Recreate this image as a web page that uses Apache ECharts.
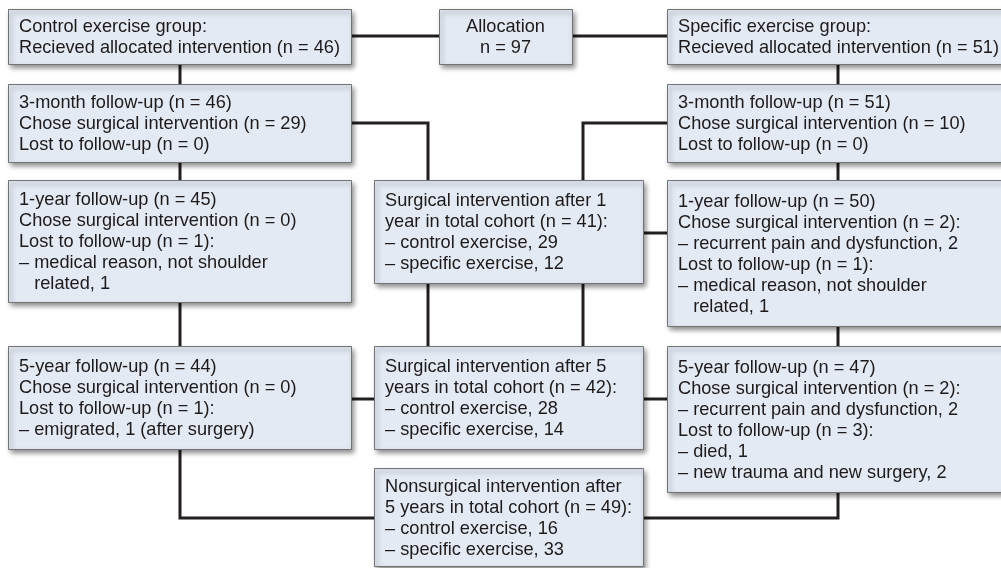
<!DOCTYPE html>
<html style="height: 100%">
<head>
  <meta charset="utf-8">
  <script src="https://cdn.jsdelivr.net/npm/echarts@6/dist/echarts.min.js"></script>
</head>
<body style="height: 100%; margin: 0; background: #fff">
<div id="container" style="width: 1001px; height: 568px"></div>
<script type="text/javascript">
// box texts, one array per column of the flow chart
const controlTexts = [
  ['Control exercise group:', 'Recieved allocated intervention (n = 46)'],
  ['3-month follow-up (n = 46)', 'Chose surgical intervention (n = 29)', 'Lost to follow-up (n = 0)'],
  ['1-year follow-up (n = 45)', 'Chose surgical intervention (n = 0)', 'Lost to follow-up (n = 1):',
   '\u2013 medical reason, not shoulder', '\u2007 related, 1'],
  ['5-year follow-up (n = 44)', 'Chose surgical intervention (n = 0)', 'Lost to follow-up (n = 1):',
   '\u2013 emigrated, 1 (after surgery)']
];
const cohortTexts = [
  ['Allocation', 'n = 97'],
  ['Surgical intervention after 1', 'year in total cohort (n = 41):', '\u2013 control exercise, 29', '\u2013 specific exercise, 12'],
  ['Surgical intervention after 5', 'years in total cohort (n = 42):', '\u2013 control exercise, 28', '\u2013 specific exercise, 14'],
  ['Nonsurgical intervention after', '5 years in total cohort (n = 49):', '\u2013 control exercise, 16', '\u2013 specific exercise, 33']
];
const specificTexts = [
  ['Specific exercise group:', 'Recieved allocated intervention (n = 51)'],
  ['3-month follow-up (n = 51)', 'Chose surgical intervention (n = 10)', 'Lost to follow-up (n = 0)'],
  ['1-year follow-up (n = 50)', 'Chose surgical intervention (n = 2):', '\u2013 recurrent pain and dysfunction, 2',
   'Lost to follow-up (n = 1):', '\u2013 medical reason, not shoulder', '\u2007 related, 1'],
  ['5-year follow-up (n = 47)', 'Chose surgical intervention (n = 2):', '\u2013 recurrent pain and dysfunction, 2',
   'Lost to follow-up (n = 3):', '\u2013 died, 1', '\u2013 new trauma and new surgery, 2']
];

// layout (page units): [left, top, right, bottom]
const controlFrames = [[8, 9, 351, 64], [8, 84, 351, 162], [8, 180, 351, 302], [8, 346, 351, 449]];
const cohortFrames = [[439, 9, 572, 64], [374, 180, 643, 283], [374, 346, 643, 449], [374, 468, 643, 566]];
const specificFrames = [[667, 9, 1004, 64], [667, 84, 1004, 162], [667, 180, 1004, 326], [667, 346, 1004, 492]];

// connector paths
const links = [
  [[351, 36], [439, 36]],
  [[572, 36], [667, 36]],
  [[180, 64], [180, 84]],
  [[838, 64], [838, 84]],
  [[351, 123], [428, 123], [428, 180]],
  [[667, 123], [583, 123], [583, 180]],
  [[180, 162], [180, 180]],
  [[838, 162], [838, 180]],
  [[643, 233], [667, 233]],
  [[180, 302], [180, 346]],
  [[428, 283], [428, 346]],
  [[583, 283], [583, 346]],
  [[838, 326], [838, 346]],
  [[351, 399], [374, 399]],
  [[643, 399], [667, 399]],
  [[180, 449], [180, 518], [374, 518]],
  [[838, 492], [838, 518], [643, 518]]
];

const boxes = [];
function addColumn(texts, frames) {
  for (let i = 0; i < texts.length; i++) {
    boxes.push({ value: frames[i], lines: texts[i], center: texts[i] === cohortTexts[0] });
  }
}
addColumn(controlTexts, controlFrames);
addColumn(cohortTexts, cohortFrames);
addColumn(specificTexts, specificFrames);

const myChart = echarts.init(document.getElementById('container'));

function renderBox(params, api) {
  const box = boxes[params.dataIndex];
  const p0 = api.coord([api.value(0), api.value(1)]);
  const p1 = api.coord([api.value(2), api.value(3)]);
  const w = p1[0] - p0[0], h = p1[1] - p0[1];
  return {
    type: 'group',
    children: [
      {
        type: 'rect',
        shape: { x: p0[0] + 0.5, y: p0[1] + 0.5, width: w, height: h },
        style: {
          fill: '#e4eaf4', stroke: '#737373', lineWidth: 1,
          shadowBlur: 5, shadowOffsetX: 2, shadowOffsetY: 3, shadowColor: 'rgba(0,0,0,0.45)'
        }
      },
      {
        type: 'text',
        x: box.center ? p0[0] + w / 2 : p0[0] + 11,
        y: p0[1] + h / 2 + 1,
        style: {
          text: box.lines.join('\n'),
          font: '18.2px "Liberation Sans", Arial, sans-serif',
          lineHeight: 21,
          fill: '#1e1a1b',
          align: box.center ? 'center' : 'left',
          verticalAlign: 'middle'
        }
      }
    ]
  };
}

const option = {
  animation: false,
  grid: { left: 0, right: 0, top: 0, bottom: 0 },
  xAxis: { type: 'value', min: 0, max: 1001, show: false },
  yAxis: { type: 'value', min: 0, max: 568, inverse: true, show: false },
  series: [
    {
      type: 'lines',
      coordinateSystem: 'cartesian2d',
      polyline: true,
      z: 1,
      lineStyle: { color: '#231f20', width: 3, opacity: 1, cap: 'butt', join: 'miter' },
      data: links.map(function (c) { return { coords: c }; })
    },
    {
      type: 'custom',
      z: 3,
      clip: false,
      renderItem: renderBox,
      encode: { x: [0, 2], y: [1, 3] },
      data: boxes.map(function (b) { return b.value; })
    }
  ]
};

myChart.setOption(option);
</script>
</body>
</html>
